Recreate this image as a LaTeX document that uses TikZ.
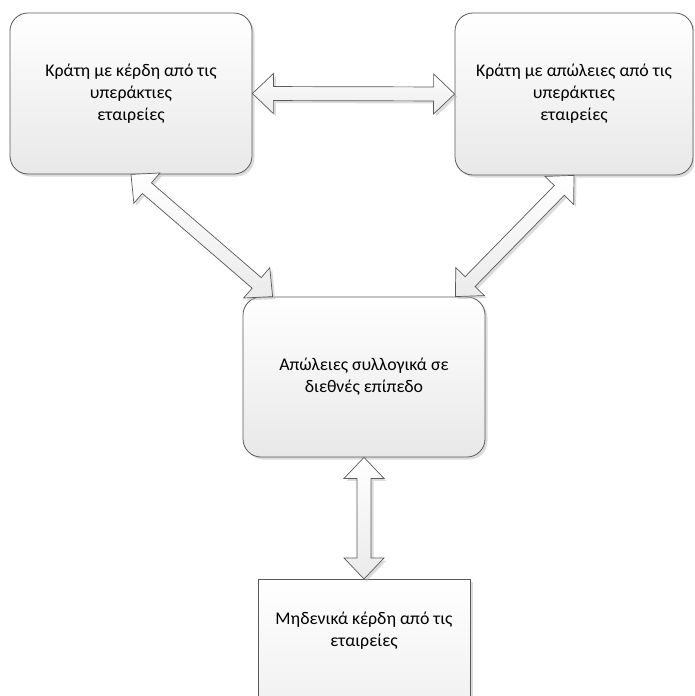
\documentclass[tikz,border=0pt]{standalone}
\usepackage{fontspec}
\setmainfont{Carlito}
\usetikzlibrary{calc,shadows}

% block arrow proportions
\newcommand\arrhead{21pt}
\newcommand\arrhalf{20pt}
\newcommand\arrshaft{7pt}

\tikzset{
  softshadow/.style={drop shadow={shadow xshift=2.5pt, shadow yshift=-2.5pt,
      fill=black!30, opacity=0.45}},
  boxtext/.style={font=\fontsize{17.8}{22}\selectfont, align=center, text=black},
  roundbox/.style={boxtext, draw=black!65, line width=0.8pt, rounded corners=18pt,
      top color=white, bottom color=black!9, softshadow, inner sep=0pt},
  squarebox/.style={boxtext, draw=black!65, line width=0.8pt,
      top color=white, bottom color=black!9, softshadow},
  arrowbody/.style={draw=black!65, line width=0.7pt, line join=miter,
      top color=white, bottom color=black!8, softshadow},
}

% double-headed block arrow with its tips on two named points
\newcommand\blockarrow[2]{%
  \path[arrowbody] (#1)
   -- ($(#1)!\arrhead!(#2)!\arrhalf!90:(#2)$)
   -- ($(#1)!\arrhead!(#2)!\arrshaft!90:(#2)$)
   -- ($(#2)!\arrhead!(#1)!\arrshaft!-90:(#1)$)
   -- ($(#2)!\arrhead!(#1)!\arrhalf!-90:(#1)$)
   -- (#2)
   -- ($(#2)!\arrhead!(#1)!\arrhalf!90:(#1)$)
   -- ($(#2)!\arrhead!(#1)!\arrshaft!90:(#1)$)
   -- ($(#1)!\arrhead!(#2)!\arrshaft!-90:(#2)$)
   -- ($(#1)!\arrhead!(#2)!\arrhalf!-90:(#2)$)
   -- cycle;}

\begin{document}
\begin{tikzpicture}[x=1pt, y=-1pt]
  \useasboundingbox (0,0) rectangle (694,696);
  \clip (0,0) rectangle (694,696);

  % the four states
  \node[roundbox, minimum width=242pt, minimum height=161pt] (gain) at (131,93.5)
    {Κράτη με κέρδη από τις\\υπεράκτιες\\εταιρείες};
  \node[roundbox, minimum width=238pt, minimum height=162pt] (loss) at (574,94)
    {Κράτη με απώλειες από τις\\υπεράκτιες\\εταιρείες};
  \node[roundbox, minimum width=242pt, minimum height=160pt] (total) at (364,377)
    {Απώλειες συλλογικά σε\\διεθνές επίπεδο};
  \node[squarebox, anchor=north, minimum width=212pt, inner xsep=0pt,
        inner ysep=33pt, text depth=100pt] (zero) at (364,579)
    {Μηδενικά κέρδη από τις\\εταιρείες};

  % tips of the diagonal arrows on the middle box
  \coordinate (totalL) at ([xshift=30pt]total.north west);
  \coordinate (totalR) at ([xshift=-30pt]total.north east);

  % connectors
  \blockarrow{gain.east}{loss.west}
  \blockarrow{gain.south}{totalL}
  \blockarrow{loss.south}{totalR}
  \blockarrow{total.south}{zero.north}
\end{tikzpicture}
\end{document}
